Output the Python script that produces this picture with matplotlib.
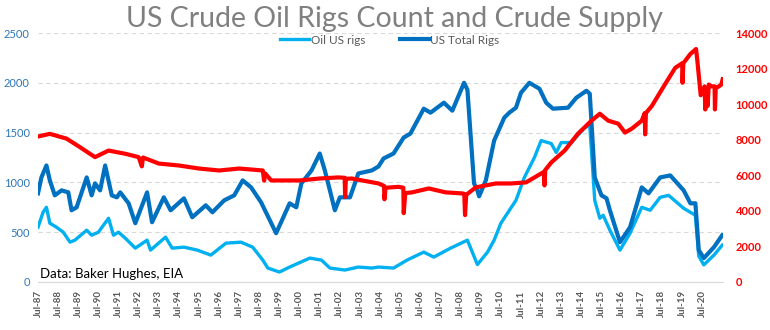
import matplotlib
matplotlib.use("Agg")
import matplotlib.pyplot as plt
import matplotlib.dates as mdates
import pandas as pd

plt.rcParams["font.family"] = ["Lato", "DejaVu Sans"]

TITLE = "US Crude Oil Rigs Count and Crude Supply"
SOURCE = "Data: Baker Hughes, EIA"

# Baker Hughes oil rigs
oil_dates = [
    "1987-07-01", "1987-10-01", "1987-12-01", "1988-02-01", "1988-06-01", "1988-10-01",
    "1989-02-01", "1989-05-01", "1989-12-01", "1990-03-01", "1990-07-01", "1991-01-01",
    "1991-04-01", "1991-07-01", "1991-11-01", "1992-05-01", "1992-12-01", "1993-02-01",
    "1993-11-01", "1994-03-01", "1994-10-01", "1995-06-01", "1996-02-01", "1996-11-01",
    "1997-08-01", "1998-03-01", "1998-09-01", "1998-12-01", "1999-07-01", "2000-01-01",
    "2001-01-01", "2001-08-01", "2002-01-01", "2002-10-01", "2003-06-01", "2004-02-01",
    "2004-06-01", "2005-03-01", "2005-11-01", "2006-09-01", "2007-03-01", "2008-01-01",
    "2008-11-01", "2009-05-01", "2009-11-01", "2010-03-01", "2010-07-01", "2011-04-01",
    "2011-09-01", "2012-03-01", "2012-07-01", "2013-01-01", "2013-04-01", "2013-07-01",
    "2014-01-01", "2014-09-01", "2014-12-01", "2015-03-01", "2015-06-01", "2015-08-01",
    "2015-12-01", "2016-06-01", "2016-12-01", "2017-07-01", "2017-12-01", "2018-06-01",
    "2018-11-01", "2019-08-01", "2020-03-01", "2020-05-01", "2020-08-01", "2021-02-01",
    "2021-07-01",
]
oil_rigs = [
    550, 700, 750, 590, 550, 500,
    400, 420, 520, 470, 500, 640,
    470, 500, 440, 340, 420, 320,
    450, 340, 350, 320, 270, 390,
    400, 350, 220, 140, 100, 150,
    240, 220, 140, 120, 150, 140,
    150, 140, 220, 300, 250, 340,
    420, 175, 300, 420, 590, 820,
    1050, 1250, 1420, 1390, 1300, 1400,
    1400, 1550, 1570, 820, 640, 670,
    520, 320, 490, 750, 720, 850,
    870, 740, 670, 260, 172, 270,
    370,
]

# Baker Hughes total rigs
total_dates = [
    "1987-07-01", "1987-09-01", "1987-12-01", "1988-02-01", "1988-05-01", "1988-09-01",
    "1989-01-01", "1989-03-01", "1989-06-01", "1989-12-01", "1990-03-01", "1990-05-01",
    "1990-08-01", "1990-11-01", "1991-03-01", "1991-06-01", "1991-08-01", "1992-01-01",
    "1992-05-01", "1992-12-01", "1993-03-01", "1993-10-01", "1994-02-01", "1994-10-01",
    "1995-03-01", "1995-11-01", "1996-03-01", "1996-10-01", "1997-04-01", "1997-09-01",
    "1998-02-01", "1998-08-01", "1999-05-01", "2000-01-01", "2000-05-01", "2000-08-01",
    "2001-02-01", "2001-07-01", "2001-10-01", "2002-01-01", "2002-04-01", "2002-07-01",
    "2003-01-01", "2003-06-01", "2004-02-01", "2004-06-01", "2004-09-01", "2005-03-01",
    "2005-09-01", "2006-01-01", "2006-09-01", "2007-01-01", "2007-09-01", "2008-02-01",
    "2008-09-01", "2008-11-01", "2009-03-01", "2009-05-01", "2009-06-01", "2009-10-01",
    "2010-03-01", "2010-09-01", "2010-12-01", "2011-04-01", "2011-07-01", "2011-12-01",
    "2012-06-01", "2012-10-01", "2013-02-01", "2013-11-01", "2014-04-01", "2014-10-01",
    "2014-12-01", "2015-03-01", "2015-07-01", "2015-10-01", "2015-12-01", "2016-06-01",
    "2016-12-01", "2017-07-01", "2017-11-01", "2018-06-01", "2018-12-01", "2019-08-01",
    "2019-12-01", "2020-03-01", "2020-05-01", "2020-08-01", "2021-02-01", "2021-07-01",
]
total_rigs = [
    890, 1050, 1170, 1020, 870, 920,
    900, 720, 750, 1050, 870, 990,
    920, 1170, 870, 850, 900, 790,
    590, 900, 600, 850, 720, 840,
    650, 770, 700, 820, 870, 1020,
    950, 800, 490, 790, 750, 990,
    1120, 1290, 1120, 920, 720, 850,
    850, 1090, 1120, 1160, 1240, 1290,
    1450, 1490, 1740, 1700, 1800, 1720,
    2000, 1930, 990, 920, 860, 1020,
    1420, 1650, 1700, 1750, 1900, 2000,
    1940, 1800, 1740, 1750, 1850, 1920,
    1890, 1050, 870, 840, 720, 400,
    550, 950, 890, 1050, 1070, 920,
    790, 790, 320, 240, 350, 470,
]

# EIA weekly US crude oil field production, kb/d
supply_dates = [
    "1987-07-01", "1988-02-01", "1988-12-01", "1989-08-01", "1990-05-01", "1991-01-01",
    "1991-11-01", "1992-07-01", "1992-08-28", "1992-09-18", "1993-07-01", "1994-07-01",
    "1995-07-01", "1996-07-01", "1997-07-01", "1998-09-01", "1998-09-25", "1998-10-16",
    "1999-02-01", "2000-07-01", "2001-07-01", "2002-06-01", "2002-09-27", "2002-10-04",
    "2002-10-18", "2003-02-01", "2004-06-01", "2004-09-10", "2004-09-17", "2004-10-08",
    "2005-06-01", "2005-08-26", "2005-09-02", "2005-09-30", "2006-02-01", "2006-12-01",
    "2007-10-01", "2008-08-01", "2008-09-05", "2008-09-19", "2008-10-10", "2009-04-01",
    "2010-04-01", "2011-01-01", "2011-10-01", "2012-07-01", "2012-08-24", "2012-08-31",
    "2012-09-14", "2013-01-01", "2013-09-01", "2014-05-01", "2015-01-01", "2015-06-01",
    "2015-11-01", "2016-05-01", "2016-09-01", "2017-01-01", "2017-07-01", "2017-08-25",
    "2017-09-01", "2017-09-15", "2018-01-01", "2018-09-01", "2019-03-01", "2019-07-05",
    "2019-07-12", "2019-07-26", "2019-12-01", "2020-03-13", "2020-04-10", "2020-06-05",
    "2020-08-14", "2020-08-28", "2020-09-11", "2020-10-09", "2020-10-30", "2020-12-15",
    "2021-02-12", "2021-02-19", "2021-03-05", "2021-05-01", "2021-06-15", "2021-07-09",
]
crude_supply = [
    8180, 8330, 8060, 7580, 7020, 7390,
    7210, 7020, 6500, 7000, 6660, 6550,
    6380, 6270, 6380, 6270, 5700, 6100,
    5710, 5710, 5820, 5880, 5860, 4780,
    5800, 5820, 5540, 5400, 4650, 5300,
    5350, 5300, 3870, 5000, 5040, 5260,
    5040, 4980, 4950, 3760, 4900, 5320,
    5540, 5540, 5600, 6100, 6200, 5430,
    6300, 6720, 7390, 8340, 9070, 9460,
    9070, 8900, 8400, 8620, 9070, 9500,
    8300, 9500, 9900, 11140, 12040, 12300,
    11200, 12300, 12820, 13100, 12300, 10500,
    11000, 9700, 10900, 9900, 11100, 11000,
    11000, 9700, 10900, 11000, 11100, 11400,
]

LIGHT_BLUE = "#00B0F0"
DARK_BLUE = "#0070C0"
RED = "#FF0000"
GREY = "#595959"

fig = plt.figure(figsize=(7.7, 3.3), dpi=100)
ax = fig.add_axes([38 / 770, 48 / 330, 685 / 770, 249 / 330])
ax2 = ax.twinx()

(l_oil,) = ax.plot(pd.to_datetime(oil_dates), oil_rigs, color=LIGHT_BLUE, lw=2.4,
                   solid_joinstyle="round", label="Oil US rigs")
(l_total,) = ax.plot(pd.to_datetime(total_dates), total_rigs, color=DARK_BLUE, lw=3.0,
                     solid_joinstyle="round", label="US Total Rigs")
ax2.plot(pd.to_datetime(supply_dates), crude_supply, color=RED, lw=3.0,
         solid_joinstyle="round")

ax.set_ylim(0, 2500)
ax.set_yticks(range(0, 2501, 500))
ax2.set_ylim(0, 14000)
ax2.set_yticks(range(0, 14001, 2000))
ax.set_xlim(pd.Timestamp("1987-07-01"), pd.Timestamp("2021-07-15"))
ax.set_xticks([pd.Timestamp(f"{y}-07-01") for y in range(1987, 2021)])
ax.xaxis.set_major_formatter(mdates.DateFormatter("%b-%y"))

ax.grid(axis="y", color="#D9D9D9", ls=(0, (4, 3)), lw=0.8)
ax.set_axisbelow(True)
for a in (ax, ax2):
    for side in ("top", "left", "right"):
        a.spines[side].set_visible(False)
    a.spines["bottom"].set_color("#D9D9D9")
ax2.spines["bottom"].set_visible(False)

ax.tick_params(axis="y", length=0, pad=6, labelsize=8, labelcolor="#2E75B6")
ax2.tick_params(axis="y", length=0, pad=9, labelsize=8, labelcolor=RED)
for t in ax2.get_yticklabels():
    t.set_fontweight("bold")
ax.tick_params(axis="x", length=0, pad=6, labelsize=7, labelcolor=GREY, rotation=90)
for t in ax.get_xticklabels():
    t.set_fontweight("bold")

fig.text(395 / 770, 1 - 6 / 330, TITLE, ha="center", va="top", fontsize=20.5,
         fontweight="normal", color="#808080")
fig.text(40 / 770, 1 - 278 / 330, SOURCE, ha="left", va="baseline", fontsize=9.5,
         color="black")

fig.legend(handles=[l_oil, l_total], loc="center", bbox_to_anchor=(390 / 770, 1 - 40 / 330),
           ncol=2, frameon=False, fontsize=8.5, labelcolor=GREY, handlelength=2.4,
           handletextpad=0.15, columnspacing=3.0, borderpad=0)

fig.savefig("out.png", dpi=100)
